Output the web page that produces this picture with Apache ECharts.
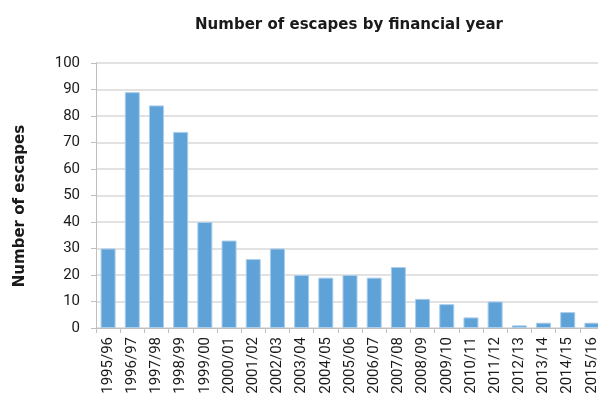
<!DOCTYPE html>
<html>
<head>
<meta charset="utf-8">
<script src="https://cdn.jsdelivr.net/npm/echarts@6/dist/echarts.min.js"></script>
<style>
  html, body { margin: 0; padding: 0; background: #fff; }
  #chart { width: 598px; height: 400px; }
</style>
</head>
<body>
<div id="chart"></div>
<script>
// Financial years on the category axis
const years = ['1995/96', '1996/97', '1997/98', '1998/99', '1999/00', '2000/01', '2001/02',
  '2002/03', '2003/04', '2004/05', '2005/06', '2006/07', '2007/08', '2008/09', '2009/10',
  '2010/11', '2011/12', '2012/13', '2013/14', '2014/15', '2015/16'];

// Escapes recorded in each year
const escapes = [30, 89, 84, 74, 40, 33, 26, 30, 20, 19, 20, 19, 23, 11, 9, 4, 10, 1, 2, 6, 2];

// Value axis range
const yMin = 0, yMax = 100, yStep = 10;

const boldFont = '"DejaVu Sans", sans-serif';
const labelFont = 'Roboto, "Liberation Sans", sans-serif';

const chart = echarts.init(document.getElementById('chart'), null, { renderer: 'canvas' });

chart.setOption({
  animation: false,
  backgroundColor: '#ffffff',
  title: {
    text: 'Number of escapes by financial year',
    left: 344,
    top: 13,
    textAlign: 'center',
    textStyle: { fontFamily: boldFont, fontSize: 15, fontWeight: 'bold', color: '#1a1a1a' }
  },
  // vertical axis title, placed beside the value labels
  graphic: [{
    type: 'text',
    x: 20,
    y: 206,
    rotation: Math.PI / 2,
    style: {
      text: 'Number of escapes',
      fontFamily: boldFont,
      fontSize: 15,
      fontWeight: 'bold',
      fill: '#1a1a1a',
      align: 'center',
      verticalAlign: 'middle'
    }
  }],
  grid: { left: 96, top: 63, width: 508, height: 265, containLabel: false, outerBoundsMode: 'none' },
  xAxis: {
    type: 'category',
    data: years,
    axisLine: { show: true, lineStyle: { color: '#bfbfbf', width: 1 } },
    axisTick: { show: true, alignWithLabel: false, length: 5, lineStyle: { color: '#bfbfbf' } },
    axisLabel: {
      rotate: 90,
      interval: 0,
      margin: 9,
      color: '#1a1a1a',
      fontSize: 15,
      fontFamily: labelFont
    }
  },
  yAxis: {
    type: 'value',
    min: yMin,
    max: yMax,
    interval: yStep,
    axisLine: { show: true, lineStyle: { color: '#bfbfbf', width: 1 } },
    axisTick: { show: true, length: 5, lineStyle: { color: '#bfbfbf' } },
    axisLabel: {
      margin: 16,
      color: '#1a1a1a',
      fontSize: 15,
      fontFamily: labelFont
    },
    splitLine: { show: true, lineStyle: { color: '#d9d9d9', width: 1.5 } }
  },
  series: [{
    type: 'bar',
    data: escapes,
    barWidth: 15,
    itemStyle: { color: '#5fa2d8', borderColor: '#a9cdeb', borderWidth: 1 }
  }]
});
</script>
</body>
</html>
